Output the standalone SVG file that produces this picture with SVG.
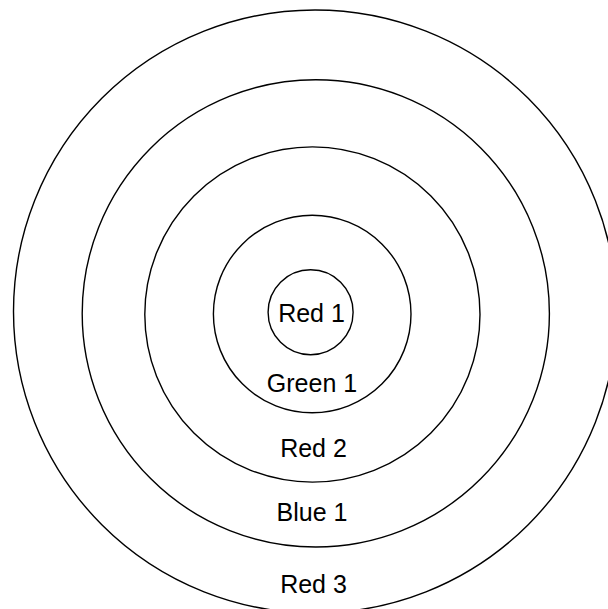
<svg xmlns="http://www.w3.org/2000/svg" width="608" height="609" viewBox="0 0 608 609">
<style>
.ring{fill:none;stroke:#000;stroke-width:1.4}
.lbl{font-family:"Liberation Sans",Arial,sans-serif;font-size:25px;fill:#000;text-anchor:middle}
</style>
<rect width="608" height="609" fill="#fff"/>
<g id="red3"><circle class="ring" cx="315" cy="311.5" r="301.5"/><text class="lbl" x="313.5" y="593">Red 3</text></g>
<g id="blue1"><circle class="ring" cx="315.8" cy="313.4" r="233.6"/><text class="lbl" x="312" y="521">Blue 1</text></g>
<g id="red2"><circle class="ring" cx="312.4" cy="314.5" r="167.6"/><text class="lbl" x="313.5" y="456.5">Red 2</text></g>
<g id="green1"><circle class="ring" cx="312.2" cy="314" r="98.8"/><text class="lbl" x="312" y="391.5">Green 1</text></g>
<g id="red1"><circle class="ring" cx="310.6" cy="312.3" r="42.5"/><text class="lbl" x="311.5" y="321.5">Red 1</text></g>
<g id="connectors"/>
</svg>
